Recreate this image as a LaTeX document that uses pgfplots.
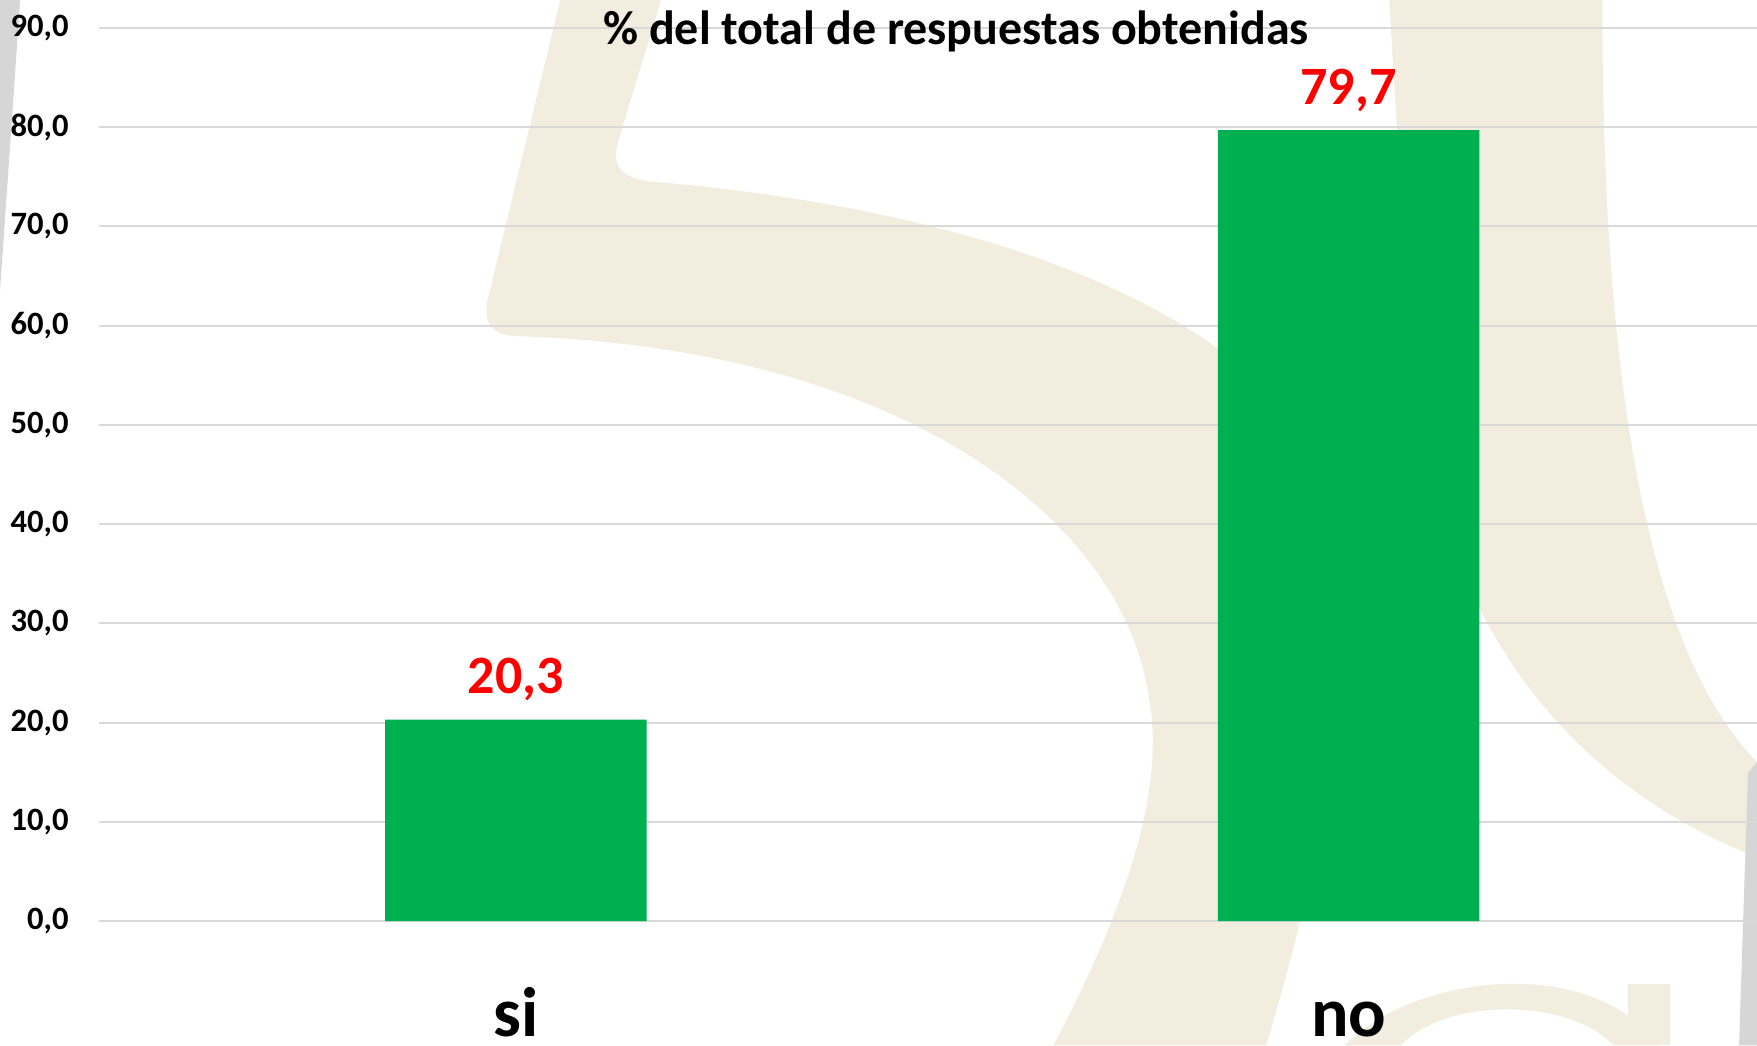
\documentclass[border=0pt]{standalone}
\usepackage{pgfplots}
\pgfplotsset{compat=1.18}
\usepackage{fontspec}
\setmainfont{Carlito}
\definecolor{barg}{HTML}{00B050}
\definecolor{gridc}{HTML}{D9D9D9}
\definecolor{wm}{HTML}{F3EDDF}
\definecolor{edgegrey}{HTML}{D6D6D6}
\begin{document}
\begin{tikzpicture}
\path[use as bounding box] (0,0) rectangle (878.5pt,522.5pt);
% faint background logo (decoration), coordinates in displayed pixels
\begin{scope}[shift={(0pt,522.5pt)},x=0.56025pt,y=-0.56025pt]
  \fill[wm] (500,0) -- (590,0) -- (552,125) .. controls (545,150) and (555,158) .. (580,162)
     .. controls (800,180) and (1050,240) .. (1160,380)
     .. controls (1230,470) and (1200,700) .. (1130,933) -- (940,933)
     .. controls (1010,800) and (1040,700) .. (1025,620)
     .. controls (1000,460) and (800,310) .. (460,300)
     .. controls (435,298) and (430,285) .. (437,260) -- cycle;
  \fill[wm] (1240,0) -- (1430,0) .. controls (1430,250) and (1450,560) .. (1568,680)
     -- (1568,765) .. controls (1400,700) and (1300,560) .. (1275,400)
     .. controls (1255,250) and (1245,100) .. (1240,0) -- cycle;
  \fill[wm] (1200,933) .. controls (1260,870) and (1420,850) .. (1480,933) -- (1440,933)
     .. controls (1400,890) and (1290,890) .. (1250,933) -- cycle;
  \fill[wm] (1453,878) rectangle (1490,933);
  \fill[edgegrey] (0,0) -- (18,0) -- (0,260) -- cycle;
  \fill[edgegrey] (1568,680) -- (1568,933) -- (1552,933) -- (1560,690) -- cycle;
\end{scope}
\begin{axis}[
  at={(49.7pt,62pt)}, anchor=south west,
  scale only axis, width=832.8pt, height=446.5pt,
  xmin=-0.5, xmax=1.5, ymin=0, ymax=90,
  ytick={0,10,...,90},
  xtick={0,1}, xticklabels={si,no},
  axis line style={draw=none},
  major tick length=0pt,
  ymajorgrids, grid style={gridc, line width=1pt},
  ybar, bar width=130.75pt,
  /pgf/number format/.cd, fixed, fixed zerofill, precision=1, use comma, assume math mode=true,
  /pgfplots/.cd,
  yticklabel style={anchor=east, inner sep=0pt, xshift=-15.2pt,
     font=\bfseries\fontsize{16.3}{16.5}\selectfont},
  xticklabel style={anchor=base, inner sep=0pt, yshift=-57.5pt,
     font=\bfseries\fontsize{35}{35}\selectfont},
  nodes near coords={\pgfmathprintnumber[fixed,fixed zerofill,precision=1,use comma]{\pgfplotspointmeta}},
  nodes near coords style={anchor=base, inner sep=0pt, yshift=13pt, text=red,
     font=\bfseries\fontsize{27}{27}\selectfont},
]
\addplot[fill=barg, draw=none] coordinates {(0,20.3) (1,79.7)};
\end{axis}
\node[anchor=base, inner sep=0pt, font=\bfseries\fontsize{24}{24}\selectfont] at (478pt,500pt) {\% del total de respuestas obtenidas};
\end{tikzpicture}
\end{document}
